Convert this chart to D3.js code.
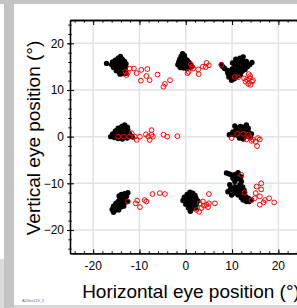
<!DOCTYPE html>
<html>
<head>
<meta charset="utf-8">
<script src="https://cdnjs.cloudflare.com/ajax/libs/d3/7.8.5/d3.min.js"></script>
<style>
  body { margin: 0; background: #c4c4c4; }
  text { font-family: "Liberation Sans", Arial, sans-serif; }
</style>
</head>
<body>
<div id="chart"></div>
<script>
// eye positions in degrees [horizontal, vertical]
var fixations = [
    // top left
    [-17.1,15.7], [-14.1,17.2], [-14.6,16.8], [-13.7,16.6], [-15.2,16.4], [-14.2,16.3],
    [-15.8,16.0], [-15.0,15.9], [-14.4,15.8], [-13.6,15.9], [-13.2,16.1],
    [-16.0,15.4], [-15.4,15.3], [-14.8,15.2], [-14.0,15.3], [-13.4,15.4], [-12.9,15.6],
    [-15.6,14.8], [-15.0,14.6], [-14.3,14.6], [-13.6,14.7], [-13.0,14.9],
    [-15.0,14.1], [-14.4,13.9], [-13.8,14.0], [-13.2,14.2], [-14.2,13.4], [-13.5,13.5], [-12.9,13.6],
    // top middle
    [-0.7,17.8], [-0.3,17.4], [-1.0,17.2], [-0.2,16.8], [-1.3,16.6], [-0.6,16.5], [0.3,16.4],
    [-1.5,16.0], [-0.8,15.9], [0.0,15.8], [0.7,15.9], [-1.7,15.4], [-1.0,15.3], [-0.3,15.2],
    [0.4,15.3], [1.0,15.4], [-1.2,14.8], [-0.5,14.7], [0.2,14.6], [0.9,14.8], [1.3,15.0],
    // top right
    [7.7,15.4], [8.4,14.6], [9.1,13.6], [9.9,12.5], [10.8,16.6], [11.7,16.8], [12.4,17.1],
    [12.4,16.3], [13.1,16.1], [13.8,15.4], [14.3,15.9], [11.3,15.0], [10.6,14.3], [9.5,13.2],
    [11.1,13.6], [11.7,14.6], [9.9,12.1], [10.2,13.0], [10.5,12.4], [11.8,13.2], [12.2,14.0],
    [12.5,15.0], [11.0,16.0], [12.0,15.8], [9.0,14.2], [8.0,15.0], [10.0,14.5], [10.6,15.4],
    [9.6,13.8], [10.4,13.6], [11.0,12.9], [11.5,14.0], [12.9,15.6], [13.3,15.0], [11.6,16.2],
    [10.9,13.3], [9.3,12.8], [12.1,14.6], [12.8,14.4], [10.1,15.8],
    // middle left
    [-13.2,2.5], [-13.8,2.2], [-12.6,2.0], [-14.6,1.8], [-14.0,1.6], [-13.3,1.5], [-12.5,1.4],
    [-15.2,1.2], [-14.5,1.0], [-13.8,0.9], [-13.0,0.8], [-12.2,0.7], [-15.8,0.6], [-15.1,0.4],
    [-14.4,0.3], [-13.6,0.2], [-12.8,0.1], [-11.9,0.2], [-16.2,0.0], [-15.4,-0.2], [-14.6,-0.4],
    [-13.7,-0.5], [-12.7,-0.3], [-11.5,-0.1],
    // middle right
    [9.4,0.4], [10.2,1.0], [10.6,2.3], [11.2,1.8], [11.8,2.2], [12.4,2.0], [13.1,2.5], [13.5,1.8],
    [10.8,1.2], [11.5,1.1], [12.2,1.2], [12.9,1.0], [13.6,0.9], [14.2,0.6], [10.5,0.4], [11.2,0.3],
    [12.0,0.4], [12.7,0.2], [13.4,0.1], [14.0,-0.2], [11.6,-0.3], [12.4,-0.5], [10.9,1.7],
    [12.8,1.6], [11.6,0.7], [13.2,0.6], [10.0,0.6],
    // bottom left
    [-12.5,-12.0], [-13.2,-12.2], [-12.8,-12.8], [-13.6,-12.9], [-14.2,-13.2], [-13.0,-13.5],
    [-13.7,-13.8], [-14.6,-13.9], [-15.1,-14.3], [-14.1,-14.4], [-13.3,-14.3], [-15.6,-14.9],
    [-14.8,-15.0], [-14.0,-15.1], [-13.4,-14.9], [-15.9,-15.6], [-15.2,-15.8], [-14.5,-15.7], [-15.6,-16.2],
    [-14.4,-12.7], [-13.9,-12.4], [-12.6,-13.9], [-14.7,-14.5], [-15.3,-15.2],
    // bottom middle
    [0.9,-11.9], [1.5,-12.1], [0.3,-12.4], [1.2,-12.7], [2.0,-12.6], [-0.3,-13.0], [0.5,-13.1],
    [1.4,-13.3], [2.2,-13.2], [-0.6,-13.7], [0.2,-13.8], [1.0,-13.9], [1.8,-14.0], [2.6,-13.8],
    [0.0,-14.5], [0.8,-14.6], [1.6,-14.7], [2.3,-14.6], [0.6,-15.3], [1.4,-15.4], [2.1,-15.3], [1.0,-16.0],
    // bottom right
    [8.8,-7.8], [9.9,-8.2], [11.3,-7.7], [10.2,-8.9], [9.5,-10.3], [10.6,-10.7], [12.0,-9.6],
    [11.8,-11.4], [9.1,-11.8], [9.9,-12.5], [12.7,-12.1], [13.5,-13.2], [14.2,-13.6], [11.7,-10.3],
    [11.3,-12.5], [12.4,-13.6], [13.1,-13.9], [10.6,-9.6], [10.8,-11.6], [12.2,-12.8],
    [9.4,-8.0], [10.7,-8.1], [11.2,-9.0], [11.9,-8.6], [10.1,-11.2], [11.2,-10.9], [12.3,-10.8],
    [9.6,-11.3], [10.5,-12.1], [11.6,-12.1], [12.0,-13.1], [12.9,-12.8], [13.7,-13.9], [12.6,-11.5]
];

var saccades = [
    // top left
    [-12.1,14.6], [-11.2,14.6], [-12.5,13.7], [-10.6,13.6], [-9.6,14.3], [-8.3,14.5], [-8.5,13.0],
    [-9.7,12.0], [-7.8,12.1], [-6.1,13.3], [-4.5,11.3], [-4.8,10.7], [-3.4,12.1], [-13.0,13.9], [-12.8,13.2],
    // top middle
    [1.1,15.5], [0.6,13.9], [0.4,13.6], [1.6,14.6], [2.7,14.4], [2.8,13.4], [3.7,15.0],
    [4.5,15.8], [5.0,15.3], [4.3,14.9], [1.4,15.0],
    // top right
    [7.7,15.4], [10.6,12.8], [11.3,12.7], [12.6,12.5], [13.6,13.4], [13.8,12.5], [14.3,11.8],
    [13.5,11.3], [14.0,11.1], [12.9,11.8], [14.5,12.1], [13.2,12.2], [13.9,13.0],
    // middle left
    [-14.6,0.0], [-13.4,0.0], [-12.2,0.0], [-11.0,0.0], [-10.6,-0.7], [-9.9,0.0], [-11.7,0.7],
    [-8.1,0.0], [-7.4,1.4], [-7.4,0.4], [-7.1,0.0], [-7.8,-0.7], [-4.8,0.4], [-4.0,0.0], [-1.8,0.1], [-8.6,0.5],
    // middle right
    [9.9,-0.3], [11.1,0.6], [12.4,0.6], [13.5,0.4], [13.8,-0.1], [13.1,-0.6], [14.5,-0.6],
    [15.1,-1.1], [16.0,-0.6], [15.4,-2.0], [14.2,-0.9], [15.6,-0.3],
    // bottom left
    [-12.5,-13.9], [-10.5,-13.7], [-10.8,-14.3], [-9.9,-15.1], [-8.9,-13.6], [-8.5,-13.9],
    [-7.2,-12.3], [-5.6,-12.1], [-4.5,-12.3],
    // bottom middle
    [3.0,-14.3], [3.4,-15.3], [2.9,-16.1], [2.3,-15.7], [3.9,-14.8], [4.5,-14.6], [5.0,-14.3],
    [5.0,-12.3], [6.3,-14.3], [4.8,-15.1], [3.7,-13.9],
    // bottom right
    [12.0,-8.2], [12.7,-12.0], [15.3,-10.7], [16.3,-10.0], [16.3,-11.3], [15.1,-12.1], [14.9,-13.2],
    [16.0,-12.8], [17.1,-13.6], [18.0,-13.2], [19.1,-14.1], [16.0,-14.6], [16.8,-14.1], [14.2,-13.6]
];

var majorTicks = [-20, -10, 0, 10, 20];
var minorTicks = d3.range(-24, 25, 2);   // every 2 degrees

var xLabel = "Horizontal eye position (°)",
    yLabel = "Vertical eye position (°)",
    stamp = "A09ex119_5";

var W = 297, H = 308;

var svg = d3.select("#chart")
    .append("svg")
    .attr("width", W)
    .attr("height", H);

// window frame
svg.append("rect").attr("x", 14).attr("y", 4).attr("width", W - 14).attr("height", 301).style("fill", "white");
svg.append("rect").attr("x", 0).attr("y", 4).attr("width", 4).attr("height", 255).style("fill", "white");
svg.append("rect").attr("x", 0).attr("y", 259).attr("width", 4).attr("height", H - 259).style("fill", "#dadada");
svg.append("rect").attr("x", 14).attr("y", 305).attr("width", W - 14).attr("height", 3).style("fill", "#d6d6d6");

// scales
var x = d3.scaleLinear().domain([-25, 25]).range([70, 301.5]);
var y = d3.scaleLinear().domain([-25, 25]).range([253.3, 20]);

// grid
var g = svg.append("g");
g.selectAll(".gx").data(majorTicks).enter().append("line")
    .attr("x1", function(d) { return x(d); }).attr("x2", function(d) { return x(d); })
    .attr("y1", y(25)).attr("y2", y(-25))
    .style("stroke", "#e2e2e2").style("stroke-width", 1.5);
g.selectAll(".gy").data(majorTicks).enter().append("line")
    .attr("y1", function(d) { return y(d); }).attr("y2", function(d) { return y(d); })
    .attr("x1", x(-25)).attr("x2", x(25))
    .style("stroke", "#e2e2e2").style("stroke-width", 1.5);

// points
svg.selectAll(".fix")
    .data(fixations)
  .enter().append("circle")
    .attr("cx", function(d) { return x(d[0]); })
    .attr("cy", function(d) { return y(d[1]); })
    .attr("r", 2.7)
    .style("fill", "black");

svg.selectAll(".sac")
    .data(saccades)
  .enter().append("circle")
    .attr("cx", function(d) { return x(d[0]); })
    .attr("cy", function(d) { return y(d[1]); })
    .attr("r", 2.4)
    .style("fill", "none")
    .style("stroke", "#ff0000")
    .style("stroke-width", 1);

// axes
function styleAxis(sel) {
    sel.select(".domain").style("stroke", "black").style("stroke-width", 1.3);
    sel.selectAll("line").style("stroke", "black").style("stroke-width", 1);
    sel.selectAll("text").style("font-size", "12px").style("fill", "black");
}

// left
var left = svg.append("g").attr("transform", "translate(" + x(-25) + ",0)")
    .call(d3.axisLeft(y).tickValues(majorTicks).tickSize(3).tickSizeOuter(0).tickPadding(3).tickFormat(d3.format("d")))
    .call(styleAxis);
left.selectAll(".tick line").attr("x1", 4);
left.selectAll(".tick text").style("font-family", "Liberation Sans, Arial, sans-serif");
svg.append("g").attr("transform", "translate(" + x(-25) + ",0)")
    .call(d3.axisLeft(y).tickValues(minorTicks).tickSize(1.7).tickSizeOuter(0).tickFormat(""))
    .call(styleAxis)
    .selectAll(".tick line").attr("x1", 1.7);

// bottom
svg.append("g").attr("transform", "translate(0," + y(-25) + ")")
    .call(d3.axisTop(x).tickValues(majorTicks).tickSize(4).tickSizeOuter(0).tickFormat(""))
    .call(styleAxis);
svg.append("g").attr("transform", "translate(0," + y(-25) + ")")
    .call(d3.axisTop(x).tickValues(minorTicks).tickSize(2).tickSizeOuter(0).tickFormat(""))
    .call(styleAxis);
svg.selectAll(".xtl").data(majorTicks).enter().append("text")
    .attr("x", function(d) { return x(d); })
    .attr("y", 269.5)
    .attr("text-anchor", "middle")
    .style("font-size", "12px")
    .text(function(d) { return d; });

// top
svg.append("g").attr("transform", "translate(0," + y(25) + ")")
    .call(d3.axisBottom(x).tickValues(majorTicks).tickSize(5).tickSizeOuter(0).tickFormat(""))
    .call(styleAxis);
svg.append("g").attr("transform", "translate(0," + y(25) + ")")
    .call(d3.axisBottom(x).tickValues(minorTicks).tickSize(2.7).tickSizeOuter(0).tickFormat(""))
    .call(styleAxis);

// titles
svg.append("text")
    .attr("x", 191)
    .attr("y", 297.5)
    .attr("text-anchor", "middle")
    .style("font-size", "19px")
    .text(xLabel);

svg.append("text")
    .attr("transform", "translate(40,138) rotate(-90)")
    .attr("text-anchor", "middle")
    .style("font-size", "19px")
    .text(yLabel);

svg.append("text")
    .attr("x", 22)
    .attr("y", 302)
    .style("font-size", "4px")
    .style("fill", "#666")
    .text(stamp);
</script>
</body>
</html>
